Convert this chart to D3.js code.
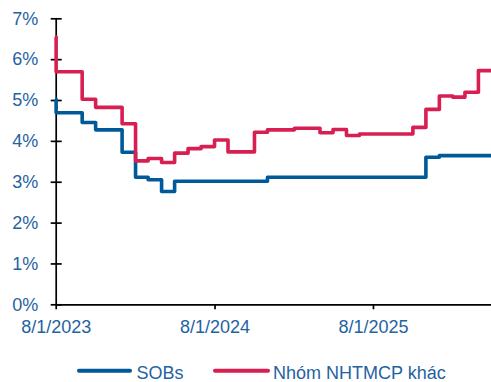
<!DOCTYPE html>
<html>
<head>
<meta charset="utf-8">
<script src="https://cdn.jsdelivr.net/npm/d3@7/dist/d3.min.js"></script>
<style>
  html, body { margin: 0; padding: 0; background: #fff; }
  svg { display: block; font-family: "Liberation Sans", Arial, sans-serif; }
</style>
</head>
<body>
<svg id="chart" width="491" height="382"></svg>
<script>
// Deposit rate series (%), stepwise by effective date
const sobsDates = ["2023-08-01","2023-08-02","2023-10-01","2023-11-01","2024-01-01","2024-02-01","2024-03-01","2024-04-01","2024-05-01","2024-12-01","2025-12-01","2026-01-01","2026-04-30"];
const sobsRates = [5.02,4.69,4.45,4.27,3.72,3.11,3.05,2.76,3.01,3.11,3.60,3.64,3.64];

const otherDates = ["2023-08-01","2023-08-02","2023-10-01","2023-11-01","2024-01-01","2024-02-01","2024-03-01","2024-04-01","2024-05-01","2024-06-01","2024-07-01","2024-08-01","2024-09-01","2024-11-01","2024-12-01","2025-02-01","2025-04-01","2025-05-01","2025-06-01","2025-07-01","2025-11-01","2025-12-01","2026-01-01","2026-02-01","2026-03-01","2026-04-01","2026-04-30"];
const otherRates = [6.55,5.69,5.02,4.82,4.42,3.51,3.57,3.47,3.70,3.81,3.86,4.02,3.73,4.21,4.27,4.31,4.20,4.28,4.13,4.17,4.33,4.77,5.10,5.07,5.19,5.72,5.72];

const seriesNames = ["SOBs", "Nhóm NHTMCP khác"];
const seriesColors = ["#005a9a", "#d81f52"];

const yTicks = [0,1,2,3,4,5,6,7];
const xTickDates = ["2023-08-01","2024-08-01","2025-08-01"];
const xDomain = ["2023-08-01","2026-04-30"];

const parse = d3.utcParse("%Y-%m-%d");
const textColor = "#1f63a2";

const svg = d3.select("#chart");

const x = d3.scaleUtc()
  .domain(xDomain.map(parse))
  .range([55.7, 491]);
const y = d3.scaleLinear()
  .domain([0, 7])
  .range([304.3, 18.3]);

// Y axis: ticks cross the axis line
const yAxis = svg.append("g")
  .attr("transform", `translate(${x.range()[0]},0)`)
  .call(d3.axisLeft(y).tickValues(yTicks).tickFormat(d => d + "%").tickSize(5).tickSizeOuter(0).tickPadding(12.4));
yAxis.selectAll(".tick line").attr("x1", 6).attr("x2", -5);

// X axis
const xAxis = svg.append("g")
  .attr("transform", `translate(0,${y(0)})`)
  .call(d3.axisBottom(x).tickValues(xTickDates.map(parse)).tickFormat(d3.utcFormat("%-m/%-d/%Y")).tickSize(5).tickSizeOuter(0).tickPadding(11.2));

[yAxis, xAxis].forEach(g => {
  g.select(".domain").attr("stroke", "#000").attr("stroke-width", 1.7);
  g.selectAll(".tick line").attr("stroke", "#000").attr("stroke-width", 1.7);
  g.selectAll(".tick text")
    .attr("fill", textColor)
    .style("font-size", "18px")
    .style("font-family", "'Liberation Sans', Arial, sans-serif");
});

// Series lines
const line = d3.line()
  .x(d => x(d[0]))
  .y(d => y(d[1]))
  .curve(d3.curveStepAfter);

const series = [
  sobsDates.map((d, i) => [parse(d), sobsRates[i]]),
  otherDates.map((d, i) => [parse(d), otherRates[i]])
];

svg.append("g").selectAll("path")
  .data(series)
  .join("path")
  .attr("d", line)
  .attr("fill", "none")
  .attr("stroke", (d, i) => seriesColors[i])
  .attr("stroke-width", 3.6)
  .attr("stroke-linejoin", "round");

// Legend
const legendItems = [
  { x1: 79, x2: 130, tx: 136.5 },
  { x1: 215, x2: 268, tx: 273 }
];
const legend = svg.append("g");
legendItems.forEach((item, i) => {
  legend.append("line")
    .attr("x1", item.x1).attr("x2", item.x2)
    .attr("y1", 370.7).attr("y2", 370.7)
    .attr("stroke", seriesColors[i])
    .attr("stroke-width", 4)
    .attr("stroke-linecap", "round");
  legend.append("text")
    .attr("x", item.tx).attr("y", 378.5)
    .attr("fill", textColor)
    .style("font-size", "18px")
    .text(seriesNames[i]);
});
</script>
</body>
</html>
